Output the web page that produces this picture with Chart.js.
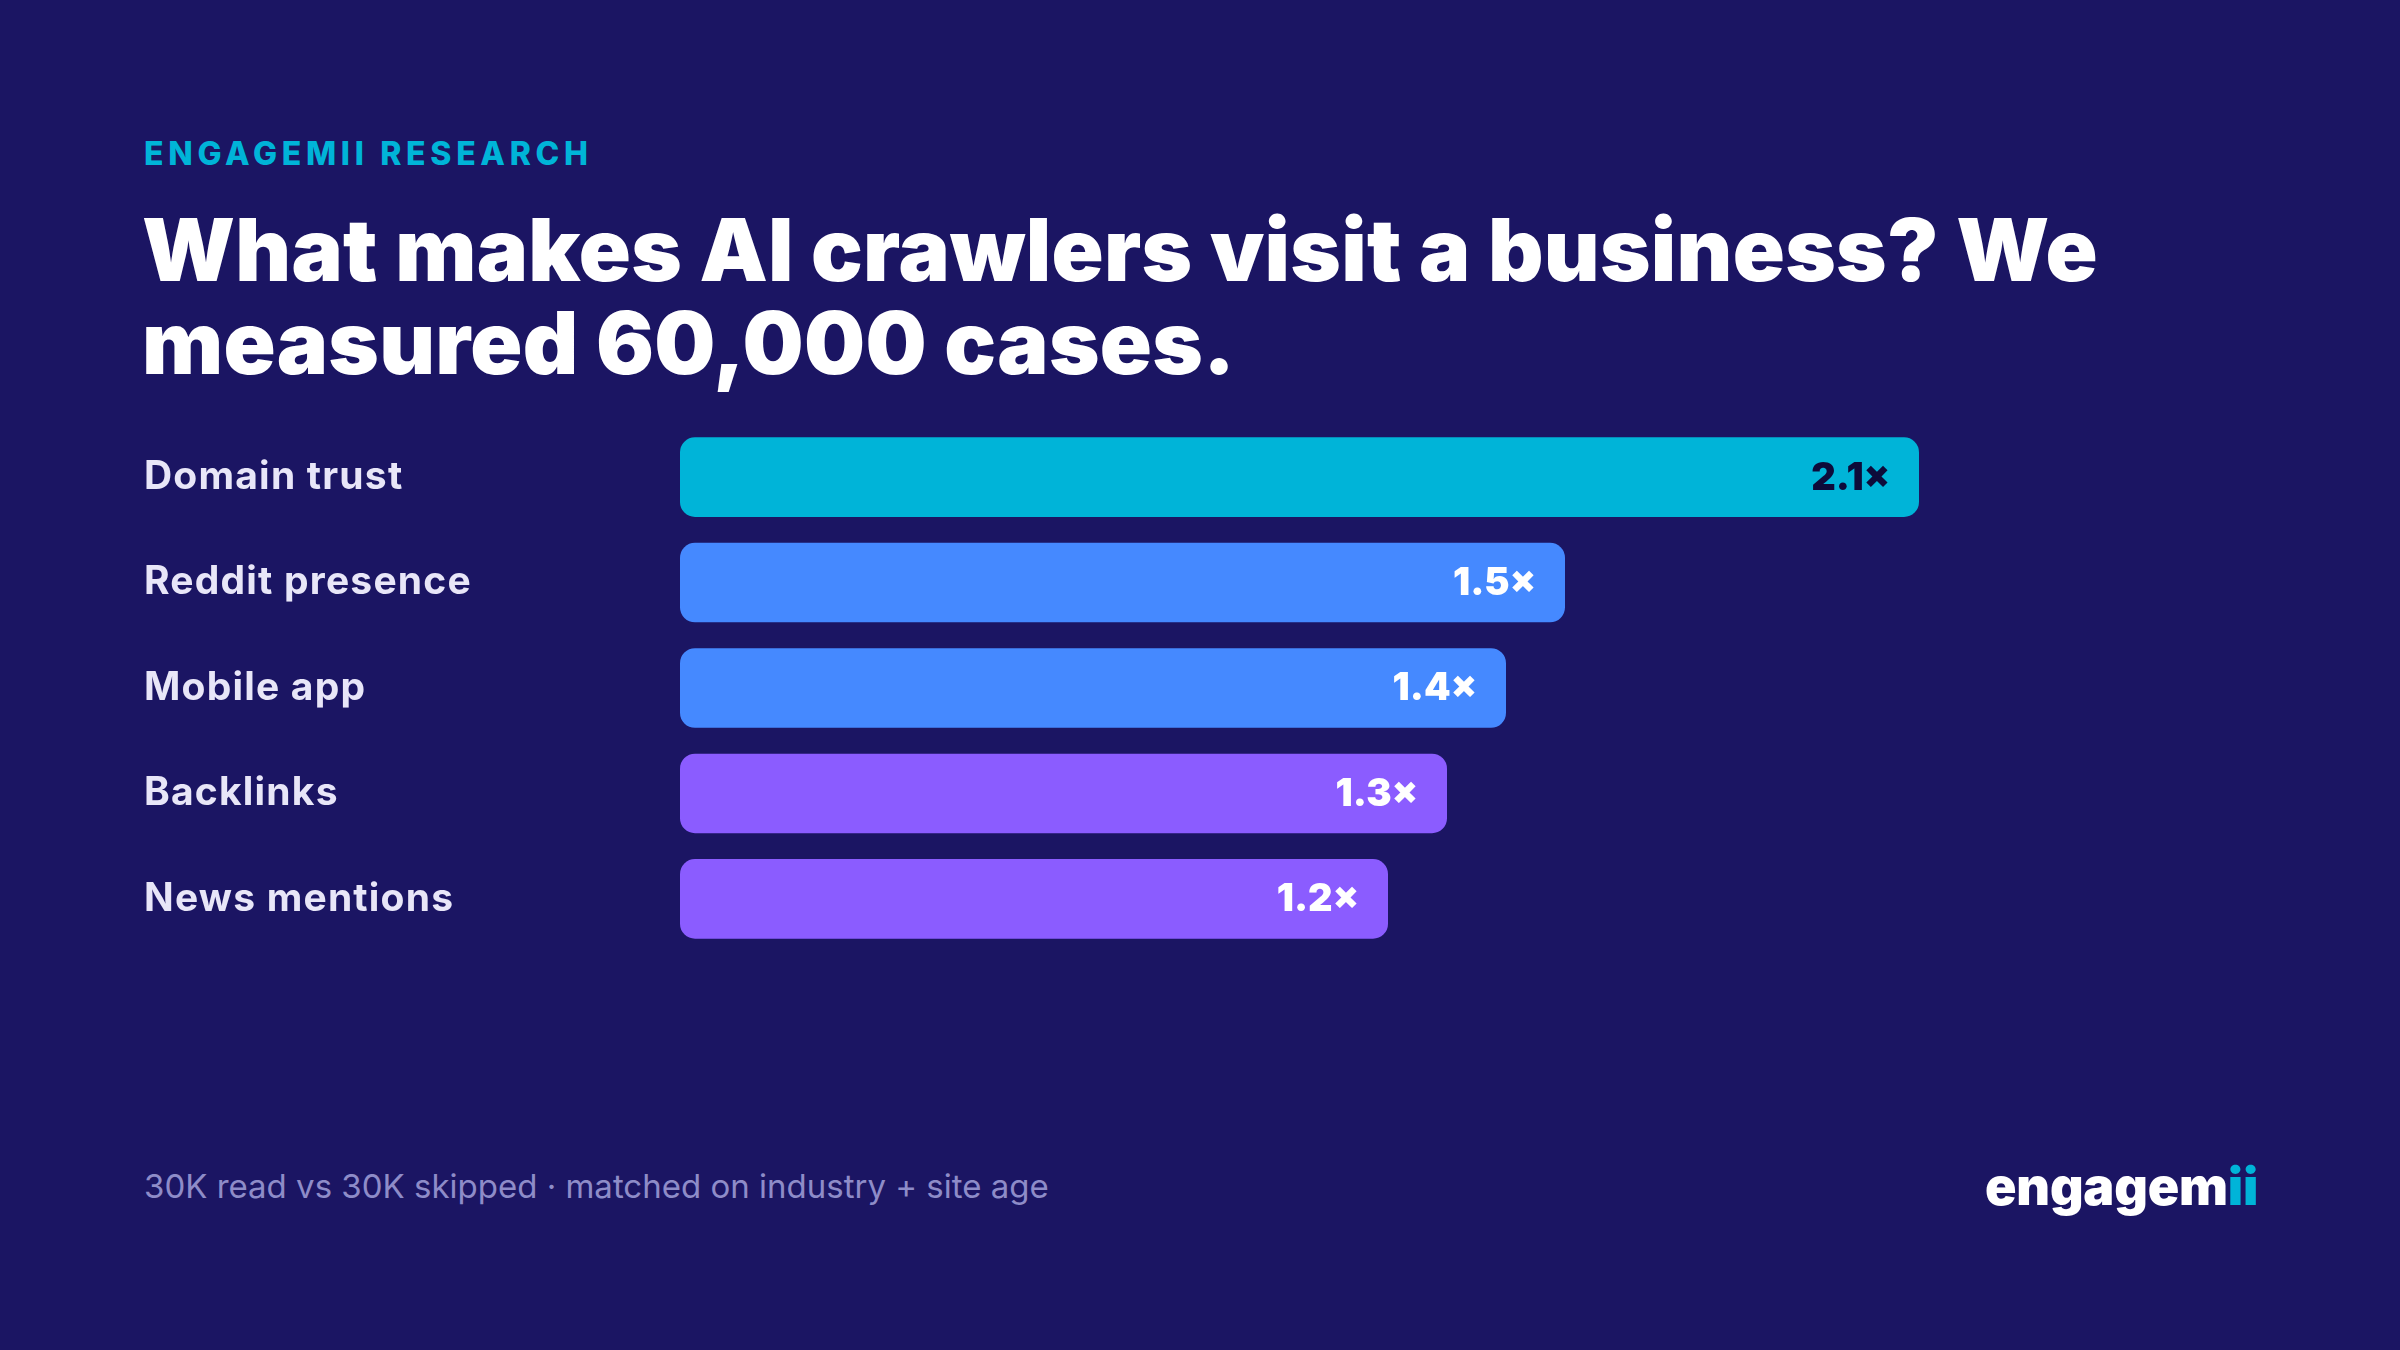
<!DOCTYPE html>
<html>
<head>
<meta charset="utf-8">
<script src="https://cdn.jsdelivr.net/npm/chart.js@4.4.1/dist/chart.umd.min.js"></script>
<style>
	html, body { margin: 0; padding: 0; }
	body {
		width: 2400px; height: 1350px; overflow: hidden;
		background: #1b1563;
		font-family: "Inter", "Noto Sans", sans-serif;
		position: relative;
	}
	#kicker {
		position: absolute; left: 144px; top: 138px;
		color: #00b4d8; font-size: 32px; font-weight: 800;
		letter-spacing: 4.7px; line-height: 1;
	}
	#title {
		position: absolute; left: 142px; top: 204px;
		color: #ffffff; font-size: 86px; font-weight: 900;
		line-height: 93px; letter-spacing: 0.3px;
	}
	#chartBox {
		position: absolute; left: 144px; top: 401px;
		width: 2011px; height: 574px;
	}
	#note {
		position: absolute; left: 144px; top: 1170px;
		color: #8e8cc8; font-size: 33px; font-weight: 400; line-height: 1;
	}
	#logo {
		position: absolute; left: 1985px; top: 1161px;
		color: #ffffff; font-size: 52px; font-weight: 900;
		letter-spacing: -0.2px; line-height: 1;
	}
	#logo span { color: #00b4d8; }
</style>
</head>
<body>

<div id="kicker">ENGAGEMII RESEARCH</div>
<div id="title">What makes AI crawlers visit a business? We<br>measured 60,000 cases.</div>
<div id="chartBox"><canvas id="lienzo"></canvas></div>
<div id="note">30K read vs 30K skipped · matched on industry + site age</div>
<div id="logo">engagem<span>ii</span></div>

<script>
// data
const categories = ['Domain trust', 'Reddit presence', 'Mobile app', 'Backlinks', 'News mentions'];
const lift = [2.1, 1.5, 1.4, 1.3, 1.2];

// styles
const barColors = ['#00b4d8', '#4589ff', '#4589ff', '#8b5cff', '#8b5cff'];
const valueColors = ['#0d0b3a', '#ffffff', '#ffffff', '#ffffff', '#ffffff'];

// a bit of tracking for the category labels
const spacing = {
	id: 'spacing',
	beforeDraw: (chart) => { chart.ctx.letterSpacing = '1.2px'; },
	afterDraw: (chart) => { chart.ctx.letterSpacing = '0px'; }
};

const valueLabels = {
	id: 'valueLabels',
	afterDatasetsDraw: (chart) => {
		const {ctx} = chart;
		const meta = chart.getDatasetMeta(0);
		ctx.save();
		ctx.letterSpacing = '0px';
		ctx.font = '900 38px Inter, "Noto Sans", sans-serif';
		ctx.textAlign = 'right';
		ctx.textBaseline = 'middle';
		meta.data.forEach((bar, i) => {
			ctx.fillStyle = valueColors[i];
			ctx.fillText(lift[i].toFixed(1) + '×', bar.x - 29, bar.y + 1);
		});
		ctx.restore();
	}
};

new Chart(document.getElementById('lienzo'), {
	type: 'bar',
	data: {
		labels: categories,
		datasets: [{
			data: lift,
			backgroundColor: barColors,
			borderRadius: 15,
			borderSkipped: false,
			categoryPercentage: 1,
			barPercentage: 0.755
		}]
	},
	options: {
		indexAxis: 'y',
		responsive: true,
		maintainAspectRatio: false,
		animation: false,
		layout: { padding: 0 },
		scales: {
			x: { display: false, min: 0, max: 2.5 },
			y: {
				grid: { display: false },
				border: { display: false },
				ticks: {
					color: '#e8e6f8',
					crossAlign: 'far',
					padding: 0,
					font: { family: 'Inter', size: 39, weight: '700' }
				},
				afterFit: (scale) => { scale.width = 536; }
			}
		},
		plugins: {
			legend: { display: false },
			tooltip: { enabled: false }
		}
	},
	plugins: [spacing, valueLabels]
});
</script>
</body>
</html>
